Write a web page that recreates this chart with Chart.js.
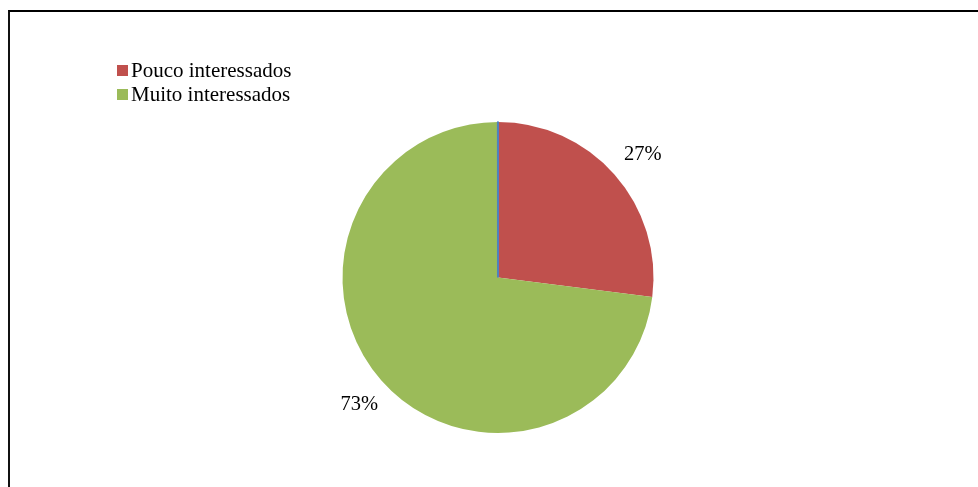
<!DOCTYPE html>
<html>
<head>
<meta charset="utf-8">
<script src="https://cdn.jsdelivr.net/npm/chart.js@4/dist/chart.umd.min.js"></script>
<style>
  html, body { margin: 0; padding: 0; background: #fff; }
  #wrap { position: relative; width: 978px; height: 487px; overflow: hidden; }
  #frame { position: absolute; left: 8px; top: 10px; width: 980px; height: 600px;
           border-top: 2px solid #000; border-left: 2px solid #111; box-sizing: border-box; }
  #c { position: absolute; left: 0; top: 0; }
  #legend { position: absolute; left: 117px; top: 58px; font-family: "Liberation Serif", "Times New Roman", serif;
            font-size: 21px; color: #000; line-height: 24px; }
  .item { display: flex; align-items: center; white-space: nowrap; }
  .sw { width: 11px; height: 11px; margin-right: 3px; margin-top: 1px; }
</style>
</head>
<body>
<div id="wrap">
  <div id="frame"></div>
  <canvas id="c" width="978" height="487"></canvas>
  <div id="legend"></div>
</div>
<script>
// Data
const categories = ['Pouco interessados', 'Muito interessados'];
const values = [27, 73];
const colors = ['#C0504D', '#9BBB59'];
// Empty (≈0) category that shows up as a thin blue radius line at 12 o'clock
const emptyCategory = '';
const emptyValue = 0.01;
const emptyColor = '#4F81BD';

const allLabels = categories.concat([emptyCategory]);
const allValues = values.concat([emptyValue]);
const total = allValues.reduce((a, b) => a + b, 0);

// HTML legend built from the arrays
const legend = document.getElementById('legend');
categories.forEach((name, i) => {
  const row = document.createElement('div');
  row.className = 'item';
  const sw = document.createElement('span');
  sw.className = 'sw';
  sw.style.background = colors[i];
  const tx = document.createElement('span');
  tx.textContent = name;
  row.appendChild(sw);
  row.appendChild(tx);
  legend.appendChild(row);
});

const outsideLabels = {
  id: 'outsideLabels',
  afterDatasetsDraw(chart) {
    const ctx = chart.ctx;
    const meta = chart.getDatasetMeta(0);
    ctx.save();
    ctx.font = '20.5px "Liberation Serif", "Times New Roman", serif';
    ctx.fillStyle = '#000';
    ctx.textAlign = 'center';
    ctx.textBaseline = 'middle';
    meta.data.forEach((arc, i) => {
      if (i >= values.length) return;
      const p = arc.getProps(['x', 'y', 'startAngle', 'endAngle', 'outerRadius'], true);
      const mid = (p.startAngle + p.endAngle) / 2;
      const r = p.outerRadius * 1.215;
      const pct = Math.round(allValues[i] / total * 100) + '%';
      ctx.fillText(pct, p.x + Math.cos(mid) * r + 3, p.y + Math.sin(mid) * r + 2);
    });
    ctx.restore();
  }
};

new Chart(document.getElementById('c'), {
  type: 'pie',
  data: {
    labels: allLabels,
    datasets: [{
      data: allValues,
      backgroundColor: colors.concat([emptyColor]),
      borderColor: colors.concat([emptyColor]),
      borderWidth: [0, 0, 2]
    }]
  },
  options: {
    responsive: false,
    animation: false,
    layout: { padding: { top: 121, bottom: 53, left: 20, right: 2 } },
    plugins: {
      legend: { display: false },
      tooltip: { enabled: false }
    }
  },
  plugins: [outsideLabels]
});
</script>
</body>
</html>
